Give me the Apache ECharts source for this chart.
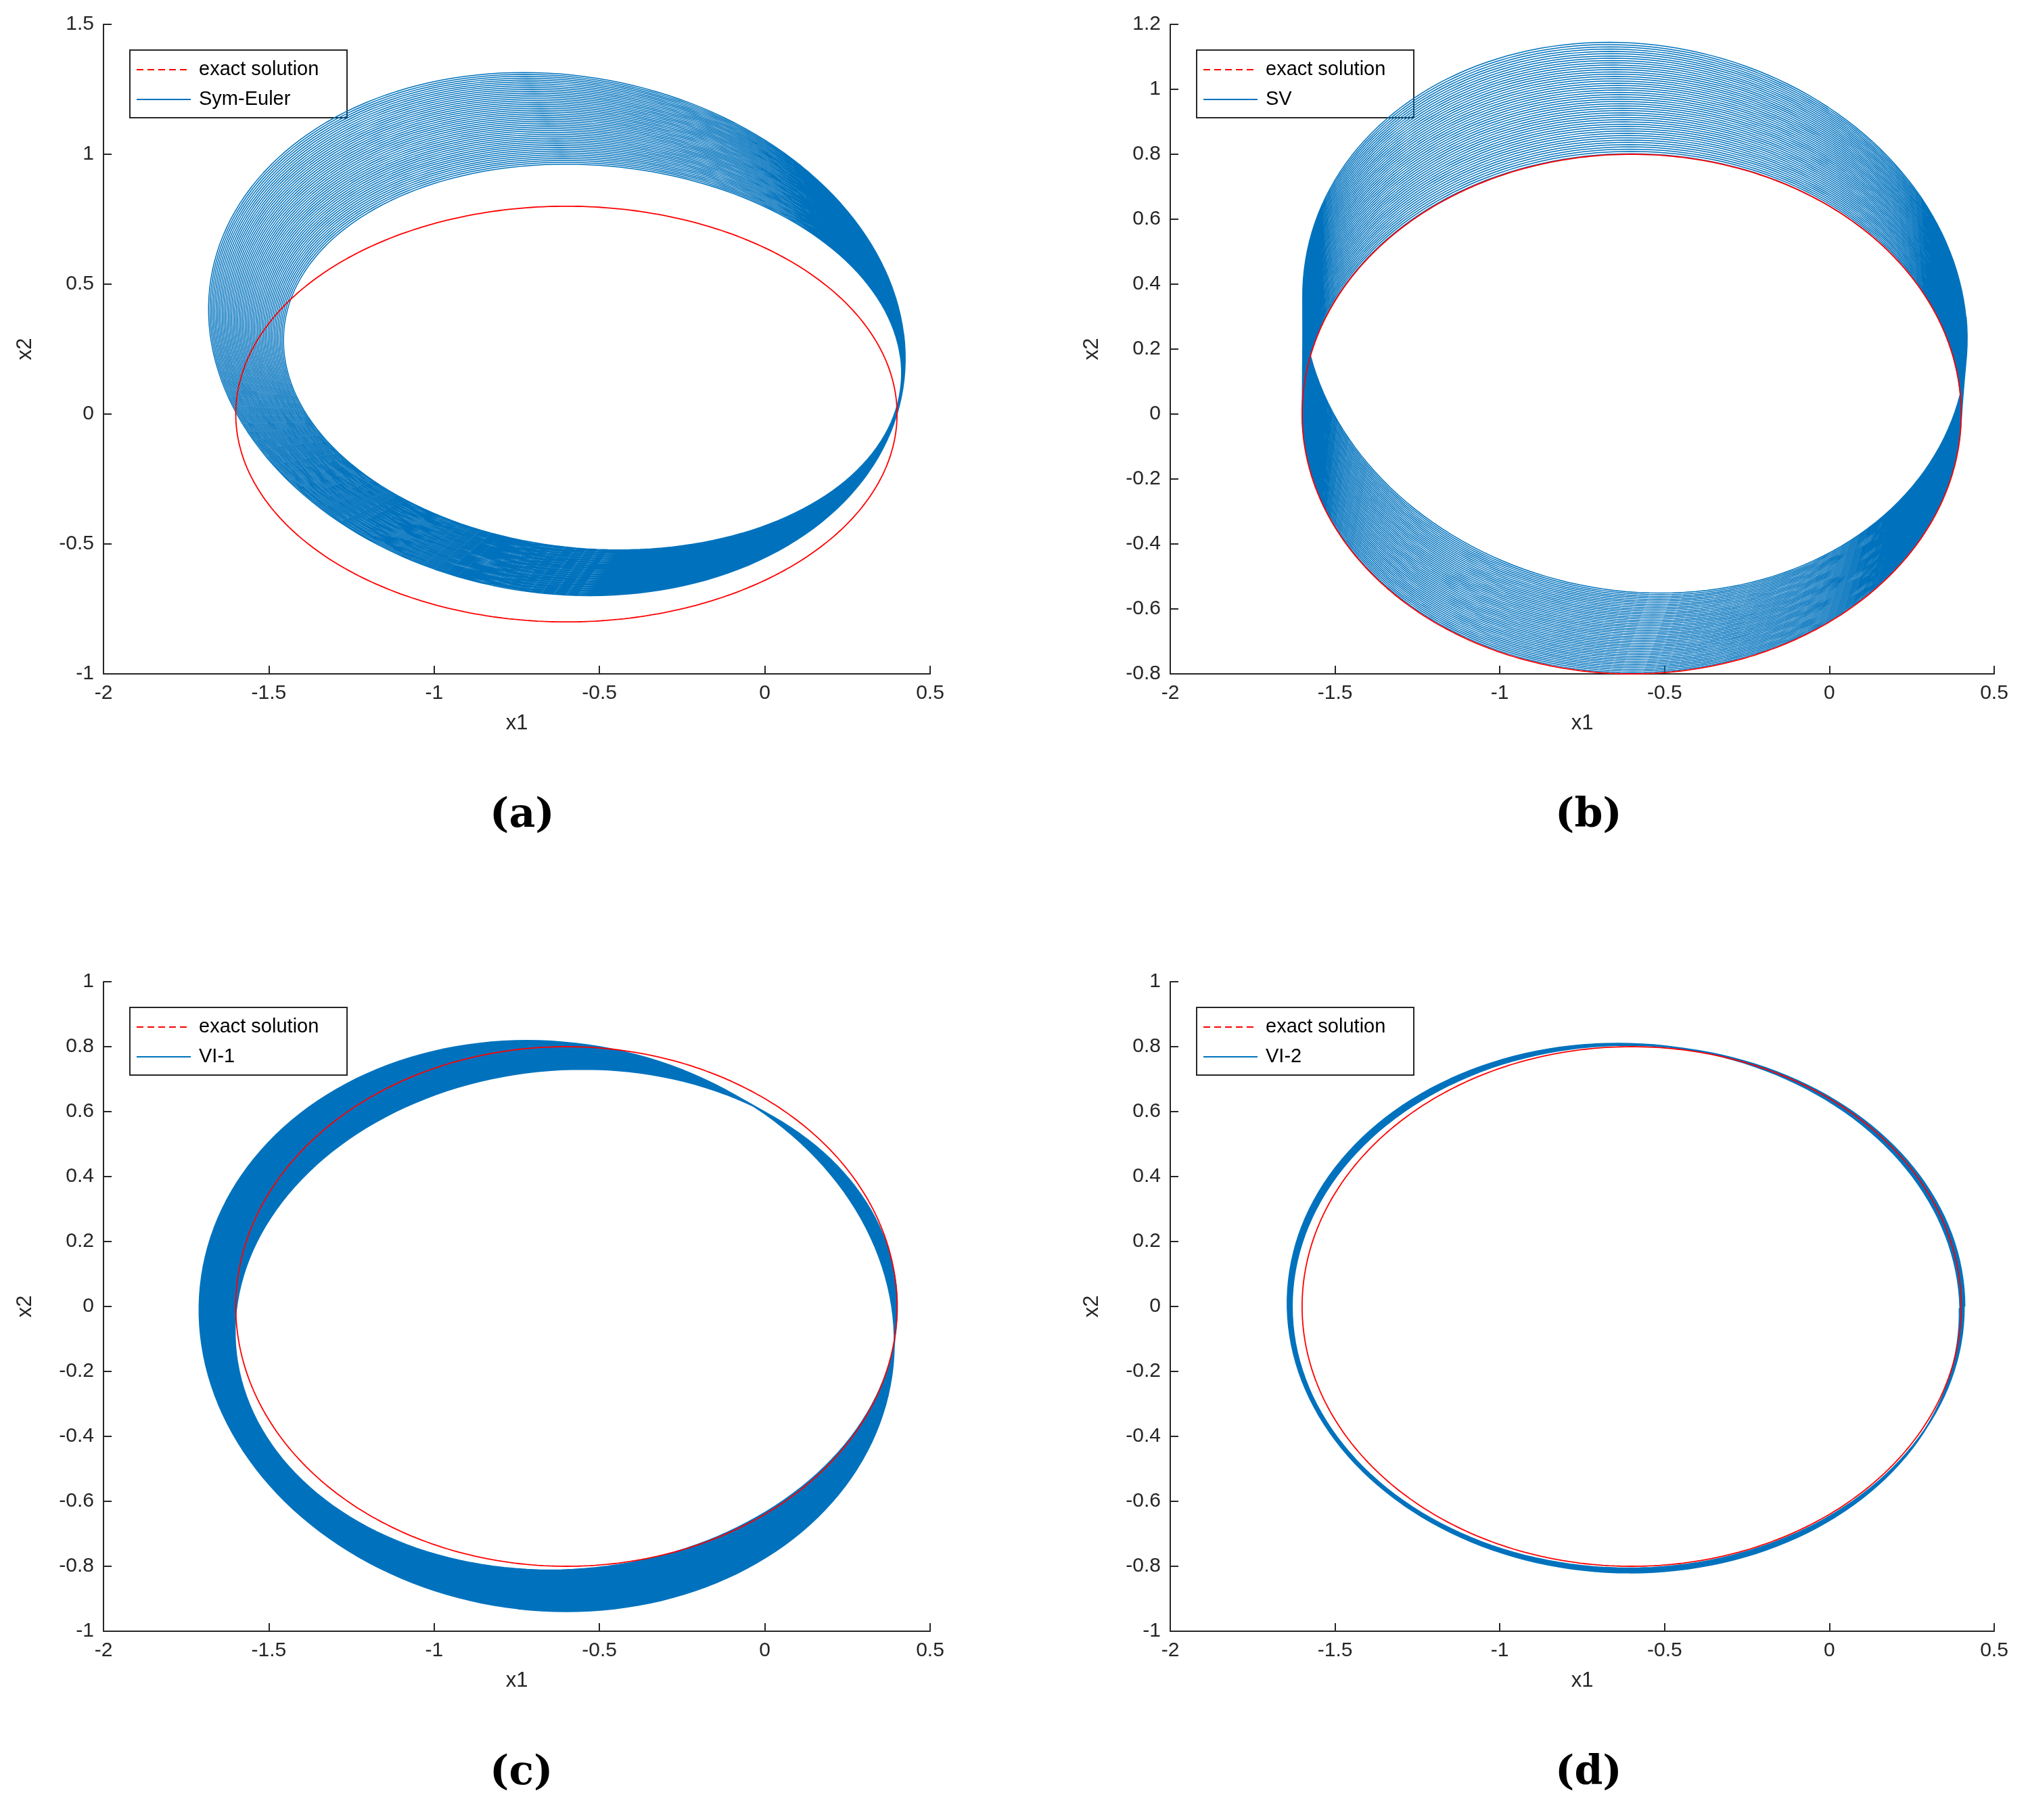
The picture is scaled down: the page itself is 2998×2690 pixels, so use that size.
<!DOCTYPE html>
<html><head><meta charset="utf-8">
<script src="https://cdn.jsdelivr.net/npm/echarts@6/dist/echarts.min.js"></script>
<style>html,body{margin:0;background:#fff}#c{width:2998px;height:2690px}</style>
</head><body><div id="c"></div>
<script>
const panelNames = ['Sym-Euler', 'SV', 'VI-1', 'VI-2'];
const captions = ['(a)', '(b)', '(c)', '(d)'];
// axis ranges [xmin,xmax,xint, ymin,ymax,yint]
const axisRanges = [
  [-2, 0.5, 0.5, -1, 1.5, 0.5],
  [-2, 0.5, 0.5, -0.8, 1.2, 0.2],
  [-2, 0.5, 0.5, -1, 1, 0.2],
  [-2, 0.5, 0.5, -1, 1, 0.2]
];
// exact solution ellipse: [cx, cy, a, b]
const exactEllipse = [-0.6, 0, 1.0, 0.8];
// numerical orbit: first and last loop [cx, cy, a, b, shear offset], and loop count
const firstLoop = [
  [-0.52, 0.22, 0.93, 0.74, 0.08],
  [-0.60, 0.00, 1.00, 0.80, 0.00],
  [-0.60, -0.04, 1.00, 0.77, -0.05],
  [-0.61, 0.00, 1.02, 0.805, 0.0]
];
const lastLoop = [
  [-0.63, 0.31, 1.05, 1.01, 0.10],
  [-0.59, 0.30, 1.005, 0.85, 0.08],
  [-0.66, -0.06, 1.05, 0.88, 0.06],
  [-0.625, -0.005, 1.02, 0.815, 0.02]
];
const loopCounts = [50, 50, 80, 8];

function ellipsePts(cx, cy, a, b) {
  const p = [];
  for (let i = 0; i <= 360; i++) { const t = i * Math.PI / 180; p.push([cx + a * Math.cos(t), cy + b * Math.sin(t)]); }
  return p;
}
function orbitPts(f, l, n) {
  const p = [], steps = 180;
  for (let i = 0; i <= n * steps; i++) {
    const s = i / (n * steps), t = i / steps * 2 * Math.PI;
    const q = f.map((v, k) => v + (l[k] - v) * s);
    const u = Math.cos(t), w = Math.sin(t);
    p.push([q[0] + q[2] * u - q[4] * w, q[1] + q[3] * w]);
  }
  return p;
}

const grids = [
  {left: 153, top: 36, width: 1222, height: 960},
  {left: 1730, top: 36, width: 1218, height: 960},
  {left: 153, top: 1451, width: 1222, height: 960},
  {left: 1730, top: 1451, width: 1218, height: 960}
];
const font = 'Liberation Sans';
const C = '#262626';
const option = {animation: false, backgroundColor: '#fff', grid: grids, xAxis: [], yAxis: [], series: [], graphic: []};
grids.forEach((g, i) => {
  const r = axisRanges[i];
  const common = {
    type: 'value', gridIndex: i, nameLocation: 'middle',
    axisLine: {onZero: false, lineStyle: {color: C, width: 2}},
    axisTick: {inside: true, length: 12, lineStyle: {color: C, width: 2}},
    splitLine: {show: false},
    nameTextStyle: {color: C, fontSize: 31, fontFamily: font},
    axisLabel: {color: C, fontSize: 30, fontFamily: font, margin: 14, formatter: v => String(+v.toFixed(2))}
  };
  option.xAxis.push(Object.assign({}, common, {min: r[0], max: r[1], interval: r[2], name: 'x1', nameGap: 58}));
  option.yAxis.push(Object.assign({}, common, {min: r[3], max: r[4], interval: r[5], name: 'x2', nameGap: 100}));
  option.series.push({type: 'line', xAxisIndex: i, yAxisIndex: i, showSymbol: false, symbol: 'none', data: orbitPts(firstLoop[i], lastLoop[i], loopCounts[i]), lineStyle: {color: '#0072BD', width: i === 3 ? 2.5 : 1.5}, z: 2});
  option.series.push({type: 'line', xAxisIndex: i, yAxisIndex: i, showSymbol: false, symbol: 'none', data: ellipsePts(...exactEllipse), lineStyle: {color: '#FF0000', width: 1.8}, z: 3});
  const lx = g.left + 38, ly = g.top + 37;
  option.graphic.push({type: 'group', left: lx, top: ly, z: 10, children: [
    {type: 'rect', shape: {x: 0, y: 0, width: 321, height: 100}, style: {fill: '#fff', stroke: C, lineWidth: 2}},
    {type: 'line', shape: {x1: 10, y1: 29, x2: 90, y2: 29}, style: {stroke: '#FF0000', lineWidth: 2, lineDash: [10, 6]}},
    {type: 'text', x: 102, y: 29, style: {text: 'exact solution', font: '29px "Liberation Sans"', fill: '#000', textVerticalAlign: 'middle'}},
    {type: 'line', shape: {x1: 10, y1: 73, x2: 90, y2: 73}, style: {stroke: '#0072BD', lineWidth: 2}},
    {type: 'text', x: 102, y: 73, style: {text: panelNames[i], font: '29px "Liberation Sans"', fill: '#000', textVerticalAlign: 'middle'}}
  ]});
  option.graphic.push({type: 'text', left: g.left + g.width / 2 - 40, top: g.top + g.height + 180, style: {text: captions[i], font: 'bold 60px "DejaVu Serif", serif', fill: '#000'}});
});
const chart = echarts.init(document.getElementById('c'));
chart.setOption(option);
</script></body></html>
